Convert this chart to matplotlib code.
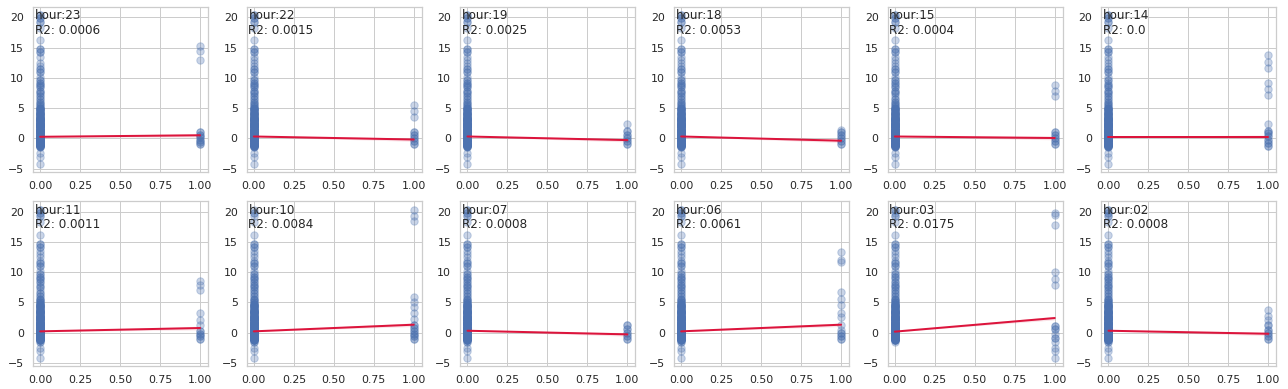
import matplotlib
matplotlib.use('Agg')
import matplotlib.pyplot as plt
import seaborn as sns
import numpy as np

# target values of every row and how many rows share each value
base_vals = [-4.2, -3.1, -2.5, -1.5, -1.3, -1.1, -0.9, -0.7, -0.5, -0.3, -0.1, 0.0,
             0.2, 0.4, 0.6, 0.8, 1.0, 1.2, 1.4, 1.6, 1.8, 2.0, 2.2, 2.4, 2.6, 2.8,
             3.0, 3.2, 3.4, 3.6, 3.8, 4.0, 4.2, 4.4, 4.6, 4.8, 5.0, 5.3, 5.6, 6.0,
             6.5, 7.0, 7.5, 7.9, 8.4, 8.8, 9.2, 9.6, 10.2, 11.0, 11.5, 11.9,
             12.5, 13.0, 13.5, 14.2, 14.7, 16.2, 18.2, 19.3, 19.8, 20.3]
base_counts = [1, 1, 1, 2, 5, 6, 6, 6, 6, 6, 6, 6,
               6, 6, 6, 6, 6, 6, 5, 5, 5, 5, 5, 5, 5, 5,
               4, 4, 4, 4, 4, 3, 3, 3, 3, 3, 3, 2, 2, 2,
               2, 2, 2, 2, 2, 2, 2, 2, 1, 2, 2, 1,
               1, 1, 1, 2, 2, 1, 1, 2, 2, 2]

hours = ['23', '22', '19', '18', '15', '14', '11', '10', '07', '06', '03', '02']
r2 = ['0.0006', '0.0015', '0.0025', '0.0053', '0.0004', '0.0',
      '0.0011', '0.0084', '0.0008', '0.0061', '0.0175', '0.0008']

# target values of the rows that belong to the hour (x = 1)
hour_vals = [
    [15.2, 14.4, 13.0, 1.0, 1.0, 0.6, 0.6, 0.2, 0.2, -0.2, -0.2, -0.6, -0.6, -1.0, -1.0],
    [5.5, 4.5, 3.5, 1.0, 1.0, 0.5, 0.5, 0.0, 0.0, -0.5, -0.5, -1.0, -1.0],
    [2.3, 1.2, 1.2, 0.6, 0.6, 0.0, 0.0, -0.5, -0.5, -1.0, -1.0],
    [1.4, 1.0, 1.0, 0.5, 0.5, 0.0, 0.0, -0.5, -0.5, -1.0, -1.0],
    [8.8, 7.8, 7.0, 1.0, 1.0, 0.5, 0.5, 0.0, 0.0, -0.5, -0.5, -1.0, -1.0],
    [13.8, 12.6, 11.7, 9.2, 8.2, 7.2, 2.3, 1.2, 1.2, 0.8, 0.8, 0.3, 0.3, -0.2, -0.2,
     -0.7, -0.7, -1.2, -1.2],
    [8.6, 7.9, 7.0, 3.2, 2.0, 1.2, 0.2, 0.2, -0.2, -0.2, -0.6, -0.6, -1.0, -1.0],
    [20.3, 19.3, 18.5, 5.8, 5.0, 4.2, 3.2, 2.3, 1.3, 1.3, 0.8, 0.8, 0.3, 0.3, -0.2, -0.2,
     -0.6, -0.6, -1.0, -1.0],
    [1.2, 1.2, 0.6, 0.6, 0.0, 0.0, -0.5, -0.5, -1.0, -1.0],
    [13.3, 12.0, 11.7, 6.7, 5.5, 4.5, 3.3, 2.5, 1.3, 0.5, 0.0, 0.0, -0.5, -0.5, -1.0, -1.0],
    [19.8, 19.4, 17.7, 10.0, 8.8, 7.8, 1.1, 1.1, 0.6, 0.6, -0.3, -0.9, -0.9, -1.5,
     -2.5, -3.1, -4.2],
    [3.8, 2.7, 2.0, 1.2, 1.2, 0.5, 0.5, 0.0, 0.0, -0.5, -0.5, -1.0, -1.0],
]

# fitted line value at x=0 and x=1
fit_at0 = [0.25, 0.3, 0.3, 0.3, 0.3, 0.25, 0.2, 0.2, 0.3, 0.2, 0.15, 0.3]
fit_at1 = [0.5, -0.2, -0.3, -0.4, 0.05, 0.25, 0.75, 1.3, -0.3, 1.3, 2.4, -0.2]

sns.set_theme(style='whitegrid')
fig, axes = plt.subplots(2, 6, figsize=(1288 / 72, 389 / 72), dpi=72)
fig.subplots_adjust(left=0.0256, right=0.991, top=0.982, bottom=0.058,
                    wspace=0.22, hspace=0.176)

all_vals = []
for v, c in zip(base_vals, base_counts):
    all_vals += [v] * c

for i, ax in enumerate(axes.flat):
    x1 = list(hour_vals[i])
    x0 = list(all_vals)
    for v in x1:
        if v in x0:
            x0.remove(v)
    xs = [0] * len(x0) + [1] * len(x1)
    ys = x0 + x1
    ax.scatter(xs, ys, color='#4C72B0', alpha=0.3, s=55, linewidths=1,
               edgecolors='#4C72B0')
    xl = np.linspace(0, 1, 50)
    yl = fit_at0[i] + (fit_at1[i] - fit_at0[i]) * xl
    band = 0.05 + 0.25 * xl
    ax.fill_between(xl, yl - band, yl + band, color='crimson', alpha=0.12, linewidth=0)
    ax.plot(xl, yl, color='crimson', linewidth=2)
    ax.set_xlim(-0.045, 1.05)
    ax.set_ylim(-5.6, 21.7)
    ax.set_xticks([0, 0.25, 0.5, 0.75, 1.0])
    ax.set_xticklabels(['0.00', '0.25', '0.50', '0.75', '1.00'])
    ax.set_yticks([-5, 0, 5, 10, 15, 20])
    ax.tick_params(labelsize=11, pad=3)
    ax.text(0.01, 0.985, 'hour:' + hours[i] + '\nR2: ' + r2[i], transform=ax.transAxes,
            va='top', ha='left', fontsize=12, color='#262626', linespacing=1.15)

plt.savefig('out.png', dpi=72)
